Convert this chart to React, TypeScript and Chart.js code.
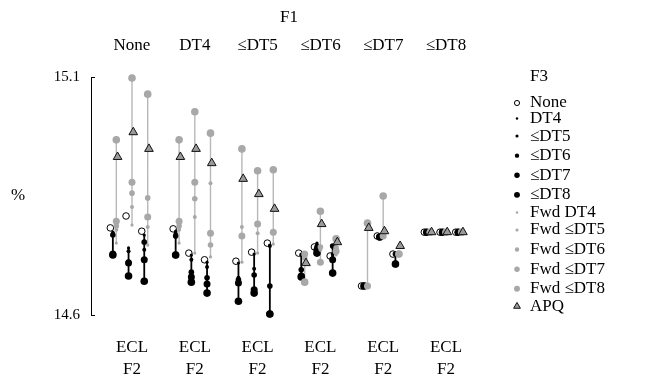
import React, { useEffect, useRef } from "react";
import { Chart, registerables } from "chart.js";

Chart.register(...registerables);

// ---------- data ----------
const panels = ["None", "DT4", "≤DT5", "≤DT6", "≤DT7", "≤DT8"];
const subCategory = "ECL";
const bottomTitle = "F2";
const topTitle = "F1";
const legendTitle = "F3";
const yLabel = "%";
const yTicks = [14.6, 15.1];
const columnsPerPanel = 3;

const seriesNames = [
  "None", "DT4", "≤DT5", "≤DT6", "≤DT7", "≤DT8",
  "Fwd DT4", "Fwd ≤DT5", "Fwd ≤DT6", "Fwd ≤DT7", "Fwd ≤DT8", "APQ",
];

// values, panel by panel, 3 columns per panel
const valNone = [14.783, 14.808, 14.776, 14.781, 14.730, 14.716, 14.713, 14.732, 14.751, 14.730, 14.743, 14.724, 14.661, 14.766, 14.728, 14.774, 14.774, 14.774];
const valDt4 = [14.774, 14.741, 14.768, 14.776, 14.726, 14.711, 14.709, 14.728, 14.747, 14.728, 14.751, 14.724, 14.663, 14.764, 14.728, 14.774, 14.774, 14.774];
const valLe5 = [14.772, 14.734, 14.737, 14.772, 14.716, 14.701, 14.678, 14.697, 14.745, 14.726, 14.747, 14.728, 14.661, 14.764, 14.728, 14.774, 14.774, 14.774];
const valLe6 = [14.768, 14.711, 14.753, 14.766, 14.690, 14.678, 14.674, 14.684, 14.661, 14.695, 14.743, 14.745, 14.661, 14.764, 14.728, 14.774, 14.774, 14.774];
const valLe7 = [14.728, 14.709, 14.716, 14.726, 14.680, 14.665, 14.667, 14.653, 14.602, 14.682, 14.737, 14.716, 14.661, 14.764, 14.707, 14.774, 14.774, 14.774];
const valLe8 = [14.726, 14.682, 14.671, 14.726, 14.669, 14.646, 14.629, 14.646, 14.602, 14.680, 14.730, 14.688, 14.661, 14.764, 14.707, 14.774, 14.774, 14.774];
const valFwdDt4 = [14.751, 14.789, 14.747, 14.751, 14.730, 14.722, 14.711, 14.730, 14.749, 14.728, 14.741, 14.726, 14.661, 14.766, 14.728, 14.774, 14.774, 14.774];
const valFwdLe5 = [14.779, 14.827, 14.785, 14.779, 14.806, 14.877, 14.785, 14.772, 14.774, 14.724, 14.737, 14.734, 14.661, 14.766, 14.728, 14.774, 14.774, 14.774];
const valFwdLe6 = [14.787, 14.856, 14.846, 14.787, 14.844, 14.747, 14.766, 14.791, 14.774, 14.720, 14.743, 14.741, 14.661, 14.766, 14.728, 14.774, 14.774, 14.774];
const valFwdLe7 = [14.797, 14.879, 14.806, 14.797, 14.879, 14.772, 14.766, 14.791, 14.774, 14.728, 14.711, 14.734, 14.661, 14.766, 14.728, 14.774, 14.774, 14.774];
const valFwdLe8 = [14.968, 15.098, 15.064, 14.968, 15.027, 14.982, 14.949, 14.903, 14.905, 14.669, 14.818, 14.760, 14.793, 14.850, 14.728, 14.774, 14.774, 14.774];
const valApq = [14.932, 14.984, 14.949, 14.932, 14.949, 14.919, 14.886, 14.854, 14.823, 14.709, 14.791, 14.753, 14.783, 14.776, 14.745, 14.774, 14.774, 14.774];

const seriesValues = [
  valNone, valDt4, valLe5, valLe6, valLe7, valLe8,
  valFwdDt4, valFwdLe5, valFwdLe6, valFwdLe7, valFwdLe8, valApq,
];

// ---------- styles ----------
const GRAY = "#a8a8a8";
const FONT_FAMILY = '"Liberation Serif", serif';
const FONT_SIZE = 17;
const NUM_SIZE = 15;

type S = { shape: string; fill: string; stroke: string; bw: number; r: number; dodge: number };
const styles: S[] = [
  { shape: "circle", fill: "#ffffff", stroke: "#000000", bw: 1, r: 3.3, dodge: -0.095 },
  { shape: "circle", fill: "#000000", stroke: "#000000", bw: 0, r: 1.6, dodge: -0.055 },
  { shape: "circle", fill: "#000000", stroke: "#000000", bw: 0, r: 2.0, dodge: -0.055 },
  { shape: "circle", fill: "#000000", stroke: "#000000", bw: 0, r: 2.8, dodge: -0.055 },
  { shape: "circle", fill: "#000000", stroke: "#000000", bw: 0, r: 3.5, dodge: -0.055 },
  { shape: "circle", fill: "#000000", stroke: "#000000", bw: 0, r: 3.8, dodge: -0.055 },
  { shape: "circle", fill: GRAY, stroke: GRAY, bw: 0, r: 1.6, dodge: 0 },
  { shape: "circle", fill: GRAY, stroke: GRAY, bw: 0, r: 2.0, dodge: 0 },
  { shape: "circle", fill: GRAY, stroke: GRAY, bw: 0, r: 2.8, dodge: 0 },
  { shape: "circle", fill: GRAY, stroke: GRAY, bw: 0, r: 3.5, dodge: 0 },
  { shape: "circle", fill: GRAY, stroke: GRAY, bw: 0, r: 3.8, dodge: 0 },
  { shape: "triangle", fill: "#9a9a9a", stroke: "#111111", bw: 1, r: 5, dodge: 0.02 },
];

const COL_GAP = 0.25;
const X_MIN = -0.653;
const X_MAX = 5.653;

const colX = (k: number) => Math.floor(k / columnsPerPanel) + ((k % columnsPerPanel) - 1) * COL_GAP;

function rangeLine(group: number[][], dodge: number) {
  const pts: { x: number; y: number | null }[] = [];
  const n = group[0].length;
  for (let k = 0; k < n; k++) {
    const vals = group.map((a) => a[k]);
    const x = colX(k) + dodge;
    pts.push({ x, y: Math.min(...vals) }, { x, y: Math.max(...vals) }, { x, y: null });
  }
  return pts;
}

const decorPlugin = {
  id: "decor",
  afterDraw(chart: any) {
    const { ctx, chartArea, scales } = chart;
    ctx.save();
    ctx.strokeStyle = "#000";
    ctx.lineWidth = 1;
    yTicks.forEach((v) => {
      const y = Math.round(scales.y.getPixelForValue(v)) + 0.5;
      ctx.beginPath();
      ctx.moveTo(chartArea.left, y);
      ctx.lineTo(chartArea.left + 4, y);
      ctx.stroke();
    });
    ctx.font = `${FONT_SIZE}px ${FONT_FAMILY}`;
    ctx.fillStyle = "#000";
    ctx.textAlign = "center";
    ctx.textBaseline = "middle";
    ctx.fillText(yLabel, 18, (chartArea.top + chartArea.bottom) / 2);

    // legend (rows whose label holds "≤" are taller)
    const markerX = 517;
    const textX = 530;
    const shortRow = 15.5;
    const tallRow = 19.6;
    ctx.textAlign = "left";
    ctx.fillText(legendTitle, textX, 77);
    let y = 103;
    seriesNames.forEach((name, i) => {
      if (i > 0) {
        const hPrev = seriesNames[i - 1].includes("≤") ? tallRow : shortRow;
        const hCur = name.includes("≤") ? tallRow : shortRow;
        y += (hPrev + hCur) / 2;
      }
      const st = styles[i];
      const r = st.r * 0.78;
      ctx.beginPath();
      if (st.shape === "triangle") {
        let a = 0;
        ctx.moveTo(markerX + Math.sin(a) * r, y - Math.cos(a) * r);
        a += (2 * Math.PI) / 3;
        ctx.lineTo(markerX + Math.sin(a) * r, y - Math.cos(a) * r);
        a += (2 * Math.PI) / 3;
        ctx.lineTo(markerX + Math.sin(a) * r, y - Math.cos(a) * r);
        ctx.closePath();
      } else {
        ctx.arc(markerX, y, r, 0, Math.PI * 2);
      }
      ctx.fillStyle = st.fill;
      ctx.fill();
      if (st.bw > 0) {
        ctx.strokeStyle = st.stroke;
        ctx.lineWidth = st.bw;
        ctx.stroke();
      }
      ctx.fillStyle = "#000";
      ctx.fillText(name, textX, y);
    });
    ctx.restore();
  },
};

export default function App() {
  const ref = useRef<HTMLCanvasElement | null>(null);

  useEffect(() => {
    if (!ref.current) return;
    const font = { family: FONT_FAMILY, size: FONT_SIZE };

    const pointSets = seriesNames.map((name, i) => {
      const st = styles[i];
      return {
        label: name,
        data: seriesValues[i].map((v, k) => ({ x: colX(k) + st.dodge, y: v })),
        pointStyle: st.shape,
        pointRadius: st.r,
        pointBackgroundColor: st.fill,
        pointBorderColor: st.stroke,
        pointBorderWidth: st.bw,
        showLine: false,
        clip: false as any,
        order: seriesNames.length - i,
      };
    });

    const fwdGroup = seriesValues.slice(6, 11);
    const dtGroup = seriesValues.slice(1, 6);

    const lineSets = [
      {
        label: "fwd-range",
        data: rangeLine(fwdGroup, styles[6].dodge),
        showLine: true,
        spanGaps: false,
        borderColor: "#b8b8b8",
        borderWidth: 1.4,
        pointRadius: 0,
        clip: false as any,
        order: 100,
      },
      {
        label: "dt-range",
        data: rangeLine(dtGroup, styles[1].dodge),
        showLine: true,
        spanGaps: false,
        borderColor: "#000000",
        borderWidth: 1.8,
        pointRadius: 0,
        clip: false as any,
        order: 99,
      },
    ];

    const panelTicks = (scale: any) => {
      scale.ticks = panels.map((_, i) => ({ value: i }));
    };

    const chart = new Chart(ref.current, {
      type: "scatter",
      data: { datasets: [...lineSets, ...pointSets] as any },
      plugins: [decorPlugin],
      options: {
        animation: false,
        responsive: false,
        devicePixelRatio: 1,
        events: [],
        layout: { padding: { left: 0, right: 172, top: 0, bottom: 0 } },
        plugins: { legend: { display: false }, tooltip: { enabled: false } },
        scales: {
          x: {
            type: "linear",
            position: "bottom",
            min: X_MIN,
            max: X_MAX,
            afterBuildTicks: panelTicks,
            afterFit: (s: any) => { s.height = 68; },
            grid: { display: false, drawTicks: false },
            border: { display: false },
            ticks: {
              autoSkip: false,
              maxRotation: 0,
              minRotation: 0,
              padding: 22,
              color: "#000",
              font: { ...font, lineHeight: 22 / FONT_SIZE },
              callback: () => [subCategory, bottomTitle],
            },
          },
          xTop: {
            type: "linear",
            position: "top",
            min: X_MIN,
            max: X_MAX,
            afterBuildTicks: panelTicks,
            afterFit: (s: any) => { s.height = 77; },
            grid: { display: false, drawTicks: false },
            border: { display: false },
            title: {
              display: true,
              text: topTitle,
              color: "#000",
              font: { ...font, lineHeight: 1.2 },
              padding: { top: 7, bottom: 0 },
            },
            ticks: {
              autoSkip: false,
              maxRotation: 0,
              minRotation: 0,
              padding: 21,
              color: "#000",
              font: { ...font, lineHeight: 1.2 },
              callback: (_v: any, i: number) => panels[i],
            },
          },
          y: {
            type: "linear",
            min: 14.6,
            max: 15.1,
            afterBuildTicks: (s: any) => { s.ticks = yTicks.map((v) => ({ value: v })); },
            afterFit: (s: any) => { s.width = 91; },
            grid: { display: false, drawTicks: false },
            border: { display: true, color: "#000", width: 1 },
            ticks: {
              padding: 11,
              color: "#000",
              font: { family: FONT_FAMILY, size: NUM_SIZE },
              callback: (v: any) => Number(v).toFixed(1),
            },
          },
        },
      },
    });
    return () => chart.destroy();
  }, []);

  return (
    <div style={{ position: "fixed", left: 0, top: 0, width: 659, height: 383, background: "#fff" }}>
      <canvas ref={ref} width={659} height={383} style={{ display: "block" }} />
    </div>
  );
}
